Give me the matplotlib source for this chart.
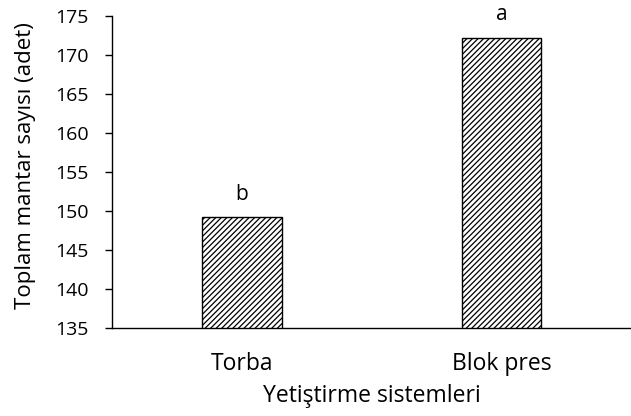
import matplotlib
matplotlib.use("Agg")
import matplotlib.pyplot as plt

# data
systems = ["Torba", "Blok pres"]
mushroom_counts = [149.2, 172.2]
group_letters = ["b", "a"]
y_ticks = [135, 140, 145, 150, 155, 160, 165, 170, 175]

plt.rcParams['font.family'] = ['Open Sans', 'DejaVu Sans']
plt.rcParams['hatch.linewidth'] = 0.9

fig = plt.figure(figsize=(6.31, 4.16), dpi=100)
ax = fig.add_axes([0.178, 0.2115, 0.822, 0.75])

x = range(len(systems))
bars = ax.bar(x, mushroom_counts, width=0.305, bottom=0, color="white",
              edgecolor="black", linewidth=1.0, hatch="//////")

for xi, val, letter in zip(x, mushroom_counts, group_letters):
    ax.annotate(letter, (xi, val), xytext=(0, 9), textcoords="offset points",
                ha="center", va="bottom", fontsize=15)

ax.set_xlim(-0.5, 1.5)
ax.set_ylim(135, 175)
ax.set_yticks(y_ticks)
ax.set_xticks(list(x))
ax.set_xticklabels(systems)

ax.spines['top'].set_visible(False)
ax.spines['right'].set_visible(False)
ax.spines['left'].set_linewidth(1.0)
ax.spines['bottom'].set_linewidth(1.0)

ax.tick_params(axis='y', direction='out', length=5, width=1.0, labelsize=14, pad=12)
ax.tick_params(axis='x', length=0, labelsize=16.5, pad=17)

ax.set_ylabel("Toplam mantar sayısı (adet)", fontsize=16, labelpad=13)
ax.yaxis.set_label_coords(-0.147, 0.52)
ax.set_xlabel("Yetiştirme sistemleri", fontsize=16.5, labelpad=6)

fig.savefig("out.png", dpi=100)
